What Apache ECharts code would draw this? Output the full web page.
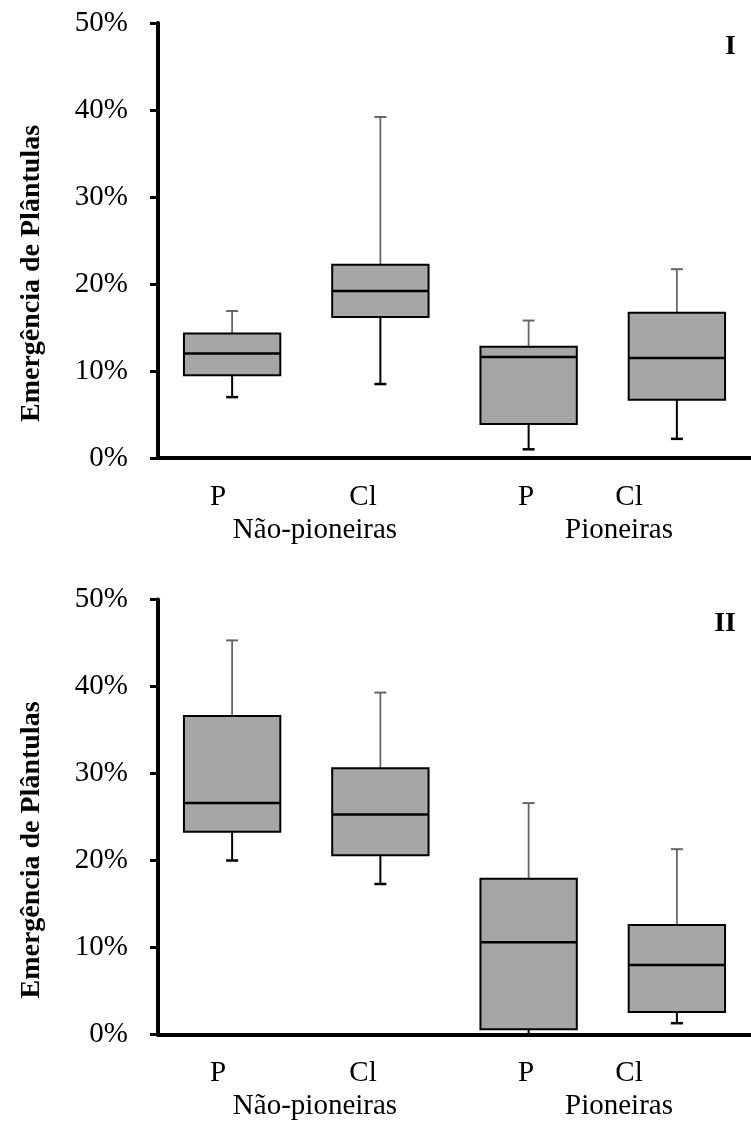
<!DOCTYPE html>
<html>
<head>
<meta charset="utf-8">
<script src="https://cdn.jsdelivr.net/npm/echarts@6/dist/echarts.min.js"></script>
<style>
html, body { margin: 0; padding: 0; background: #fff; }
#chart { width: 751px; height: 1122px; }
</style>
</head>
<body>
<div id="chart"></div>
<script>
// categorias (eixo x) e grupos
const categories = ['P', 'Cl', 'P', 'Cl'];
const groups = ['Não-pioneiras', 'Pioneiras'];
const panelNames = ['I', 'II'];
const yTicks = [0, 10, 20, 30, 40, 50];

// [mín, Q1, mediana, Q3, máx] em %
const boxesI = [
  [7.0, 9.5, 12.0, 14.3, 16.9],
  [8.5, 16.2, 19.2, 22.2, 39.2],
  [1.0, 3.9, 11.6, 12.8, 15.8],
  [2.2, 6.7, 11.5, 16.7, 21.7]
];
const boxesII = [
  [20.0, 23.3, 26.6, 36.6, 45.3],
  [17.3, 20.6, 25.3, 30.6, 39.3],
  [0.0, 0.6, 10.6, 17.9, 26.6],
  [1.3, 2.6, 8.0, 12.6, 21.3]
];

const FONT = "'Liberation Serif', 'Times New Roman', serif";
const panelTop = [23, 599.5];
const plotH = 435;

function renderBox(params, api) {
  const i = api.value(0);
  const lo = api.coord([i, api.value(1)]);
  const q1 = api.coord([i, api.value(2)]);
  const md = api.coord([i, api.value(3)]);
  const q3 = api.coord([i, api.value(4)]);
  const hi = api.coord([i, api.value(5)]);
  const w = api.size([1, 0])[0] * 0.65;
  const x = lo[0];
  const cap = 6;
  return {
    type: 'group',
    children: [
      { type: 'line', shape: { x1: x, y1: q3[1], x2: x, y2: hi[1] }, style: { stroke: '#666', lineWidth: 1.8 } },
      { type: 'line', shape: { x1: x - cap, y1: hi[1], x2: x + cap, y2: hi[1] }, style: { stroke: '#666', lineWidth: 2 } },
      { type: 'line', shape: { x1: x, y1: q1[1], x2: x, y2: lo[1] }, style: { stroke: '#000', lineWidth: 2 } },
      { type: 'line', shape: { x1: x - cap, y1: lo[1], x2: x + cap, y2: lo[1] }, style: { stroke: '#000', lineWidth: 2.5 } },
      { type: 'rect', shape: { x: x - w / 2, y: q3[1], width: w, height: q1[1] - q3[1] }, style: { fill: '#a6a6a6', stroke: '#000', lineWidth: 2 } },
      { type: 'line', shape: { x1: x - w / 2, y1: md[1], x2: x + w / 2, y2: md[1] }, style: { stroke: '#000', lineWidth: 2.5 } }
    ]
  };
}

const grids = [], xAxes = [], yAxes = [], series = [], graphics = [], titles = [];
[boxesI, boxesII].forEach(function (boxes, p) {
  const top = panelTop[p];
  grids.push({ left: 158, top: top, width: 600, height: plotH });
  xAxes.push({
    type: 'category', gridIndex: p, data: categories,
    axisLine: { lineStyle: { color: '#000', width: 4 } },
    axisTick: { show: false }, axisLabel: { show: false }
  });
  yAxes.push({
    type: 'value', gridIndex: p, min: 0, max: 50, interval: 10,
    name: 'Emergência de Plântulas', nameLocation: 'middle', nameGap: 112,
    nameTextStyle: { fontFamily: FONT, fontWeight: 'bold', fontSize: 28, color: '#000', padding: [0, 66, 0, 0] },
    axisLine: { show: true, lineStyle: { color: '#000', width: 4 } },
    axisTick: { show: true, length: 8, lineStyle: { color: '#000', width: 3 } },
    splitLine: { show: false },
    axisLabel: { margin: 30, fontFamily: FONT, fontSize: 29, color: '#000', formatter: '{value}%' }
  });
  series.push({
    type: 'custom', xAxisIndex: p, yAxisIndex: p,
    renderItem: renderBox,
    encode: { x: 0, y: [1, 2, 3, 4, 5] },
    data: boxes.map(function (b, i) { return [i].concat(b); })
  });
  titles.push({
    text: panelNames[p], right: 10, top: top + 5,
    textStyle: { fontFamily: FONT, fontWeight: 'bold', fontSize: 28, color: '#000' }
  });
  // rótulos do eixo x (deslocados como no original)
  const base = top + plotH;
  const labelX = [218, 363, 526, 629];
  const groupX = [315, 619];
  categories.forEach(function (c, i) {
    graphics.push({ type: 'text', x: labelX[i], y: base + 39, style: { text: c, font: '29px ' + FONT, fill: '#000', align: 'center', verticalAlign: 'middle' } });
  });
  groups.forEach(function (g, i) {
    graphics.push({ type: 'text', x: groupX[i], y: base + 72, style: { text: g, font: '29px ' + FONT, fill: '#000', align: 'center', verticalAlign: 'middle' } });
  });
});

const chart = echarts.init(document.getElementById('chart'));
chart.setOption({
  animation: false,
  backgroundColor: '#fff',
  title: titles,
  grid: grids,
  xAxis: xAxes,
  yAxis: yAxes,
  series: series,
  graphic: graphics
});
</script>
</body>
</html>
